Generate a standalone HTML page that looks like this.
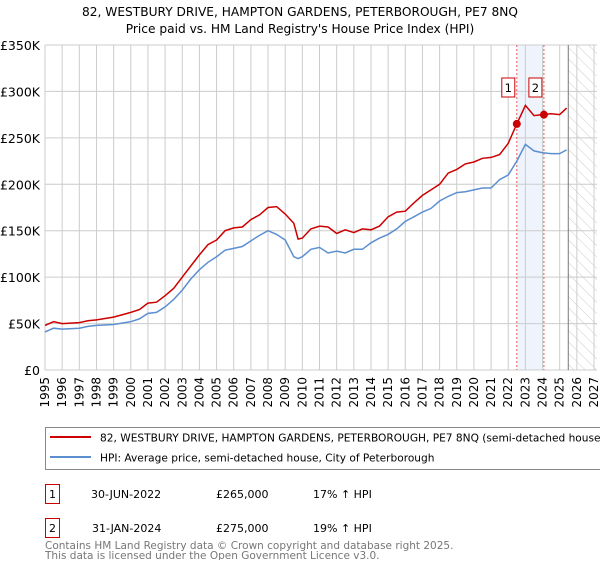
<!DOCTYPE html>
<html><head><meta charset="utf-8"><style>
body{margin:0;background:#fff;font-family:"DejaVu Sans","Liberation Sans",sans-serif;}
svg text{font-family:"DejaVu Sans","Liberation Sans",sans-serif;}
</style></head><body>
<svg id="c" width="600" height="560" xmlns="http://www.w3.org/2000/svg">
<defs><pattern id="hatch" width="8" height="8" patternUnits="userSpaceOnUse" patternTransform="rotate(-45)"><line x1="0" y1="0" x2="0" y2="8" stroke="#ccc" stroke-width="1"/></pattern></defs>
<text x="300" y="16" text-anchor="middle" font-size="12.2">82, WESTBURY DRIVE, HAMPTON GARDENS, PETERBOROUGH, PE7 8NQ</text>
<text x="300" y="33" text-anchor="middle" font-size="12.2">Price paid vs. HM Land Registry's House Price Index (HPI)</text>
<g id="plot"></g>
<rect x="45.5" y="427.5" width="560" height="42" fill="#fff" stroke="#888"/>
<line x1="50" y1="437" x2="91" y2="437" stroke="#cc0000" stroke-width="2"/>
<text x="100" y="441.5" font-size="10.6">82, WESTBURY DRIVE, HAMPTON GARDENS, PETERBOROUGH, PE7 8NQ (semi-detached house)</text>
<line x1="50" y1="457" x2="91" y2="457" stroke="#5b8fd0" stroke-width="2"/>
<text x="100" y="461.5" font-size="10.6">HPI: Average price, semi-detached house, City of Peterborough</text>
<g>
<rect x="45.5" y="484.5" width="14" height="19" fill="#fff" stroke="#cc0000"/><text x="52.5" y="498" text-anchor="middle" font-size="11">1</text>
<text x="91" y="498" font-size="11">30-JUN-2022</text><text x="216" y="498" font-size="11">£265,000</text><text x="313" y="498" font-size="11">17% ↑ HPI</text></g>
<g>
<rect x="45.5" y="518.5" width="14" height="19" fill="#fff" stroke="#cc0000"/><text x="52.5" y="532" text-anchor="middle" font-size="11">2</text>
<text x="92" y="532" font-size="11">31-JAN-2024</text><text x="216" y="532" font-size="11">£275,000</text><text x="313" y="532" font-size="11">19% ↑ HPI</text></g>
<text x="45" y="549" font-size="10.5" fill="#777">Contains HM Land Registry data © Crown copyright and database right 2025.</text>
<text x="45" y="559" font-size="10.5" fill="#777">This data is licensed under the Open Government Licence v3.0.</text>
</svg>
<script>
const years=[1995,1995.5,1996,1997,1997.5,1998,1999,2000,2000.5,2001,2001.5,2002,2002.5,2003,2003.5,2004,2004.5,2005,2005.5,2006,2006.5,2007,2007.5,2008,2008.5,2009,2009.5,2009.75,2010,2010.5,2011,2011.5,2012,2012.5,2013,2013.5,2014,2014.5,2015,2015.5,2016,2016.5,2017,2017.5,2018,2018.5,2019,2019.5,2020,2020.5,2021,2021.5,2022,2022.5,2023,2023.5,2024,2024.5,2025,2025.4];
const propertyK=[48,52,50,51,53,54,57,62,65,72,73,80,88,100,112,124,135,140,150,153,154,162,167,175,176,168,158,141,142,152,155,154,147,151,148,152,151,155,165,170,171,180,188,194,200,212,216,222,224,228,229,232,244,265,285,274,275,276,275,282];
const hpiK=[41,45,44,45,47,48,49,52,55,61,62,68,76,86,98,108,116,122,129,131,133,139,145,150,146,140,122,120,122,130,132,126,128,126,130,130,137,142,146,152,160,165,170,174,182,187,191,192,194,196,196,205,210,225,243,236,234,233,233,237];
const yTicks=[0,50,100,150,200,250,300,350];
const yTickLabels=["£0","£50K","£100K","£150K","£200K","£250K","£300K","£350K"];
const xTicks=[1995,1996,1997,1998,1999,2000,2001,2002,2003,2004,2005,2006,2007,2008,2009,2010,2011,2012,2013,2014,2015,2016,2017,2018,2019,2020,2021,2022,2023,2024,2025,2026,2027];
const saleDates=[2022.5,2024.08];
const salePricesK=[265,275];
const saleLabels=["1","2"];
const forecastStart=2025.5;
const X0=45,X1=594,Y0=370,Y1=45;
const xs=v=>X0+(v-1995)/(2027-1995)*(X1-X0);
const ys=v=>Y0-v/350*(Y0-Y1);
const NS="http://www.w3.org/2000/svg";
const g=document.getElementById('plot');
function mk(t,a){const e=document.createElementNS(NS,t);for(const k in a)e.setAttribute(k,a[k]);g.appendChild(e);return e;}
let bg=mk('rect',{x:X0,y:Y1,width:X1-X0,height:Y0-Y1,fill:'#fff'});


let band=mk('rect',{x:xs(saleDates[0]),y:Y1,width:xs(saleDates[1])-xs(saleDates[0]),height:Y0-Y1,fill:'#eef3fc'});


let hz=mk('rect',{x:xs(forecastStart),y:Y1,width:X1-xs(forecastStart)+3,height:Y0-Y1,fill:'url(#hatch)'});


xTicks.forEach(t=>{const l=mk('line',{x1:xs(t),x2:xs(t),y1:Y1,y2:Y0,stroke:'#ccc'});


const tx=mk('text',{x:0,y:0,'font-size':12,'text-anchor':'end',transform:`translate(${xs(t)+4},${Y0+7}) rotate(-90)`});tx.textContent=t;

});
yTicks.forEach((t,i)=>{const l=mk('line',{x1:X0,x2:X1+3,y1:ys(t),y2:ys(t),stroke:'#ccc'});


const tx=mk('text',{x:40,y:ys(t)+5,'font-size':12.5,'text-anchor':'end'});tx.textContent=yTickLabels[i];

});
let fl=mk('line',{x1:xs(forecastStart),x2:xs(forecastStart),y1:Y1,y2:Y0,stroke:'#777'});


saleDates.forEach((d,i)=>{const l=mk('line',{x1:xs(d),x2:xs(d),y1:Y1,y2:Y0,stroke:'#e06060','stroke-dasharray':'2,2'});

});
function path(vals,col,name){const d=years.map((y,i)=>(i?'L':'M')+xs(y).toFixed(1)+','+ys(vals[i]).toFixed(1)).join('');
const p=mk('path',{d,fill:'none',stroke:col,'stroke-width':1.5});

}
path(hpiK,'#5b8fd0','hpi-line');
path(propertyK,'#cc0000','property-line');
saleDates.forEach((d,i)=>{const c=mk('circle',{cx:xs(d),cy:ys(salePricesK[i]),r:4,fill:'#cc0000'});


const r=mk('rect',{x:xs(d)-15,y:78,width:13,height:19,fill:'#fff',stroke:'#cc0000'});


const t=mk('text',{x:xs(d)-8.5,y:92,'font-size':11.5,'text-anchor':'middle'});t.textContent=saleLabels[i];

});
</script>
</body></html>
